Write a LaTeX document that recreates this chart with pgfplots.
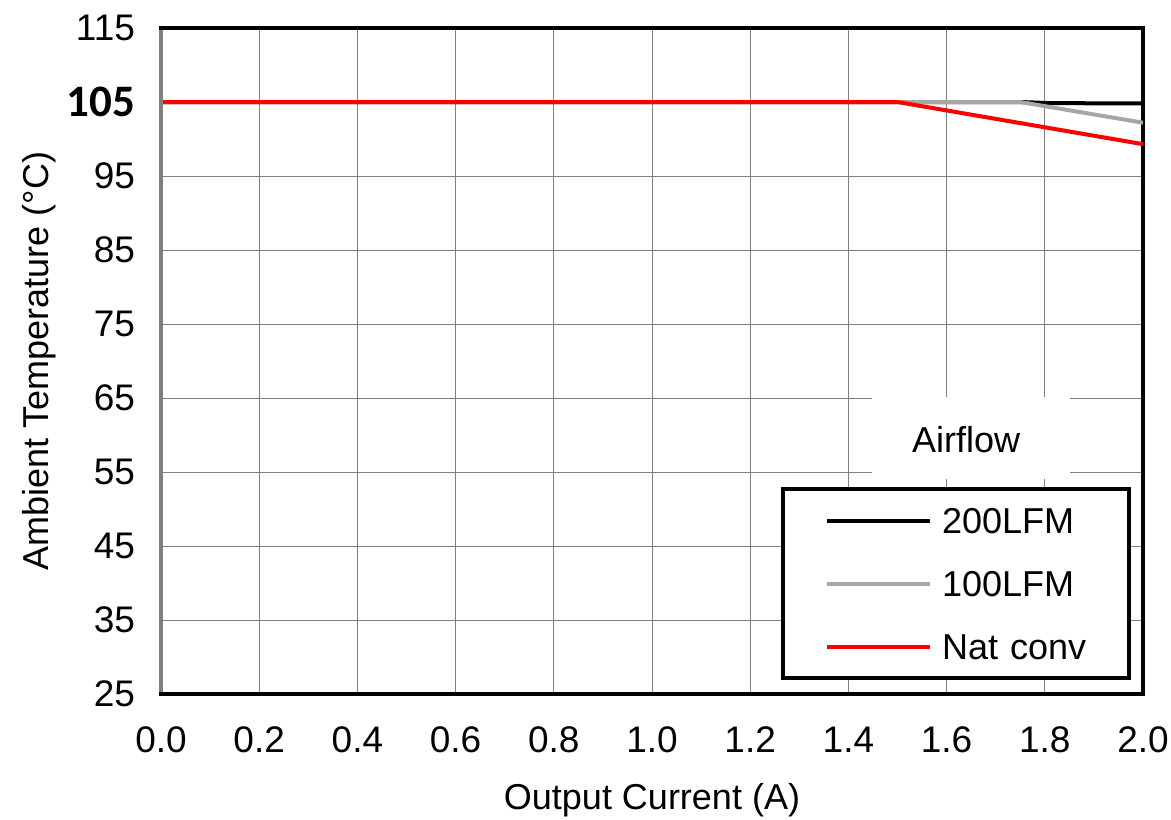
\documentclass[border=0pt]{standalone}
\usepackage{pgfplots}
\pgfplotsset{compat=1.18}
\usepackage{fontspec}
\setmainfont{Liberation Sans}
\newfontfamily\boldcal{Carlito}
\definecolor{lgray}{HTML}{A6A6A6}
\definecolor{gridgray}{HTML}{7F7F7F}
\begin{document}
\begin{tikzpicture}
\begin{axis}[
  name=ax,
  scale only axis,
  width=491pt, height=333pt,
  xmin=0, xmax=2, ymin=25, ymax=115,
  xtick={0,0.2,...,2.01},
  ytick={25,35,45,55,65,75,85,95,105,115},
  yticklabels={25,35,45,55,65,75,85,95,{\boldcal\bfseries\fontsize{22.5}{22.5}\selectfont 105},115},
  xticklabel={\pgfmathprintnumber[fixed,fixed zerofill,precision=1]{\tick}},
  /pgf/number format/assume math mode=true,
  tick label style={font=\fontsize{18.5}{20}\selectfont},
  xticklabel style={yshift=-13pt},
  yticklabel style={xshift=-9.5pt},
  major tick length=0pt,
  grid=major,
  major grid style={gridgray, line width=0.5pt},
  axis line style={black, line width=2pt},
  xlabel={Output Current (A)},
  ylabel={Ambient Temperature (°C)},
  label style={font=\fontsize{18}{20}\selectfont},
  xlabel style={at={(axis description cs:0.5,0)}, anchor=center, yshift=-53pt},
  ylabel style={at={(axis description cs:-0.1242,0.5)}, anchor=center},
  legend style={at={(0.6314,0.3108)}, anchor=north west, draw=black, line width=2pt, fill=white,
    inner xsep=21pt, inner ysep=0pt, row sep=0pt, column sep=5pt,
    nodes={font=\fontsize{18}{20}\selectfont, inner sep=0pt, text width=72.5pt, align=left, text height=22.2pt, text depth=9.3pt}},
  legend image code/.code={\draw[#1] (0pt,0pt) -- (51.5pt,0pt);},
]
\addplot[black, line width=2pt] coordinates {(0,105) (1.75,105) (1.81,104.85) (2.0,104.8)};
\addlegendentry{200LFM}
\addplot[lgray, line width=2pt] coordinates {(0,105) (1.75,105) (2.0,102.2)};
\addlegendentry{100LFM}
\addplot[red, line width=2pt] coordinates {(0,105) (1.5,105) (2.0,99.3)};
\addlegendentry{Nat conv}
\fill[white] (rel axis cs:0.724,0.3228) rectangle (rel axis cs:0.9257,0.446);
\node[font=\fontsize{18}{20}\selectfont] at (rel axis cs:0.8198,0.3814) {Airflow};
\end{axis}
\draw[gray, line width=2.2pt] ([yshift=1pt]ax.south west) -- ([yshift=-1pt]ax.north west);
\pgfresetboundingbox
\path ([xshift=-80.5pt,yshift=-62.5pt]ax.south west) rectangle ([xshift=14pt,yshift=14pt]ax.north east);
\end{tikzpicture}
\end{document}
